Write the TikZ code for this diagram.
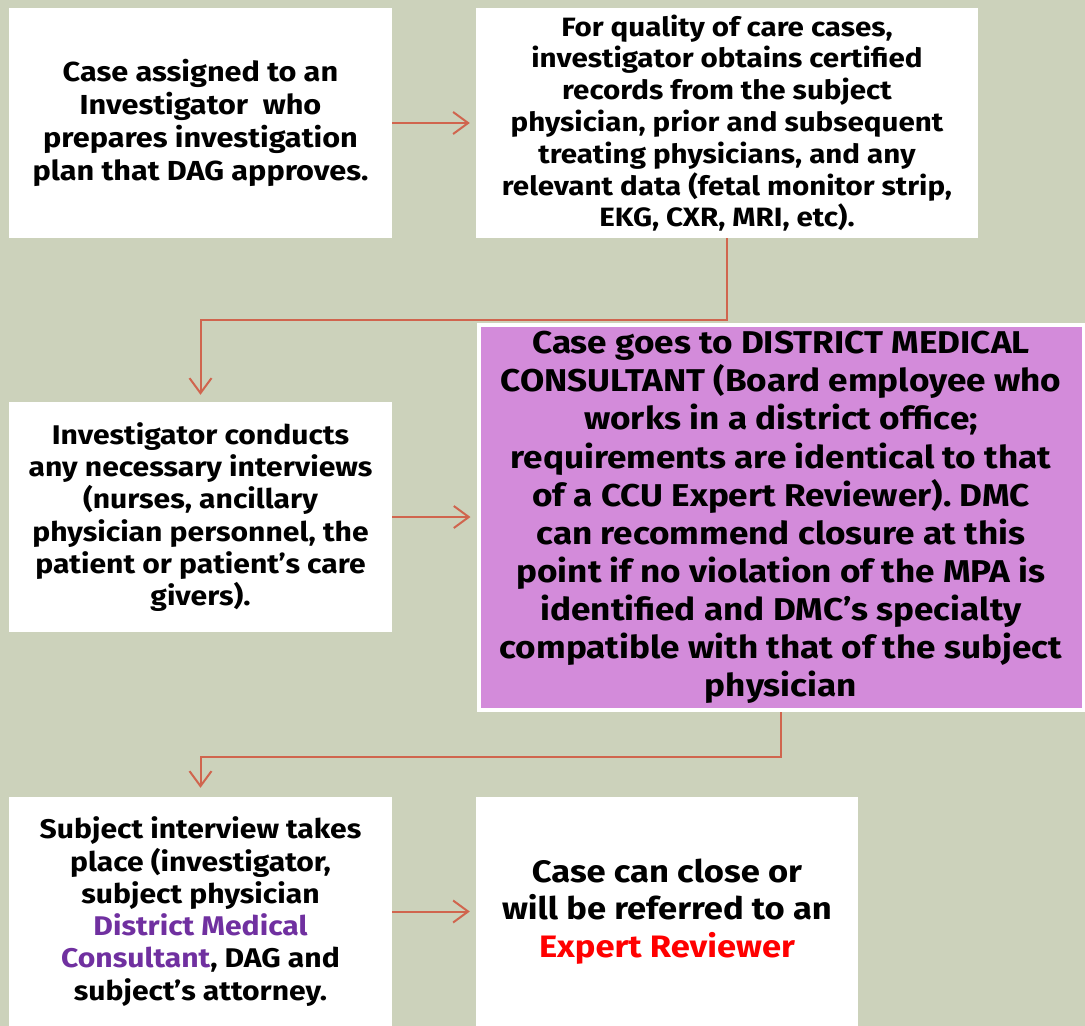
\documentclass[tikz,border=0pt]{standalone}
\usepackage{fontspec}
\setmainfont[FakeStretch=1.115]{Fira Sans}
\usetikzlibrary{arrows.meta}
\frenchspacing
\definecolor{bgc}{RGB}{204,210,187}
\definecolor{arrc}{RGB}{208,101,78}
\definecolor{dmcfill}{RGB}{211,139,218}
\definecolor{purpletext}{RGB}{112,48,160}
\definecolor{redtext}{RGB}{255,0,0}
\tikzset{
  whitebox/.style={rectangle, fill=white, draw=none, align=center, inner sep=0pt},
  flowarrow/.style={draw=arrc, line width=2pt, -{Straight Barb[length=15pt,width=22pt]}},
}
\begin{document}
\begin{tikzpicture}[x=1pt,y=-1pt]
\fill[bgc] (0,0) rectangle (1085,1026);
\useasboundingbox (0,0) rectangle (1085,1026);

\node[whitebox, minimum width=383pt, minimum height=230pt, font={\bfseries\fontsize{27.5}{33}\selectfont}] (b1) at (200.5,123)
  {Case assigned to an\\ Investigator\ \ who\\ prepares investigation\\ plan that DAG approves.};
\node[whitebox, minimum width=502pt, minimum height=230pt, font={\bfseries\fontsize{26.5}{31.8}\selectfont}] (b2) at (727,123)
  {For quality of care cases,\\ investigator obtains certified\\ records from the subject\\ physician, prior and subsequent\\ treating physicians, and any\\ relevant data (fetal monitor strip,\\ EKG, CXR, MRI, etc).};
\node[whitebox, minimum width=383pt, minimum height=230pt, font={\bfseries\fontsize{27}{32.3}\selectfont}] (b3) at (200.5,517)
  {Investigator conducts\\ any necessary interviews\\ (nurses, ancillary\\ physician personnel, the\\ patient or patient’s care\\ givers).};
\node[whitebox, fill=dmcfill, draw=white, line width=4pt, minimum width=605pt, minimum height=385pt, font={\bfseries\fontsize{31.5}{38.1}\selectfont}] (b4) at (781,517.5)
  {Case goes to DISTRICT MEDICAL\\ CONSULTANT (Board employee who\\ works in a district office;\\ requirements are identical to that\\ of a CCU Expert Reviewer). DMC\\ can recommend closure at this\\ point if no violation of the MPA is\\ identified and DMC’s specialty\\ compatible with that of the subject\\ physician};
\node[whitebox, minimum width=383pt, minimum height=229pt, font={\bfseries\fontsize{27}{32.3}\selectfont}] (b5) at (200.5,911.5)
  {Subject interview takes\\ place (investigator,\\ subject physician\\ \textcolor{purpletext}{District Medical}\\ \textcolor{purpletext}{Consultant}, DAG and\\ subject’s attorney.};
\node[whitebox, minimum width=382pt, minimum height=229pt, font={\bfseries\fontsize{31}{37.5}\selectfont}] (b6) at (667,911.5)
  {Case can close or\\ will be referred to an\\ \textcolor{redtext}{Expert Reviewer}};

\coordinate (m1) at (0,320);
\coordinate (m2) at (0,757);

\draw[flowarrow, shorten >=6pt] (b1.east) -- (b2.west);
\draw[flowarrow, shorten >=6pt] (b3.east) -- (b3.east -| b4.west);
\draw[flowarrow, shorten >=6pt] (b5.east) -- (b6.west);
\draw[flowarrow, shorten >=7pt] (b2.south) -- (b2.south |- m1) -| (b3.north);
\draw[flowarrow, shorten >=9pt] (b4.south) -- (b4.south |- m2) -| (b5.north);
\end{tikzpicture}
\end{document}
